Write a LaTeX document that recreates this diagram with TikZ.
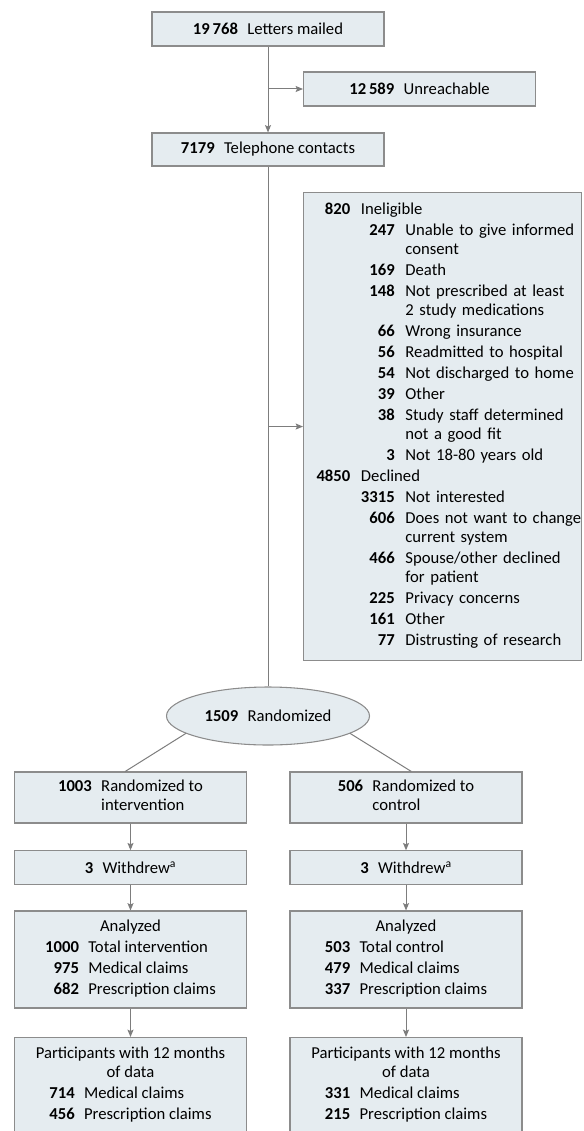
\documentclass[tikz,border=0pt]{standalone}
\usepackage{fontspec}
\setmainfont{Carlito}
\usetikzlibrary{shapes.geometric,arrows.meta}

\definecolor{boxfill}{RGB}{229,236,240}
\definecolor{boxline}{RGB}{140,140,140}
\definecolor{flowline}{RGB}{125,125,125}
% gap between a count and its label
\newcommand{\ngap}{\hspace{7pt}}
\newcommand{\igap}{\\[1.5pt]}

\begin{document}
\begin{tikzpicture}[x=0.75pt,y=-0.75pt,
    font=\fontsize{12.5pt}{14.25pt}\selectfont,
    box/.style={rectangle,draw=boxline,fill=boxfill,line width=0.8pt,
      minimum width=174pt,inner sep=2pt},
    flow/.style={draw=flowline,line width=0.75pt},
    arr/.style={flow,-{Stealth[length=5.5pt,width=4.5pt,inset=1pt]}}]
  % fix the page to the size of the figure
  \useasboundingbox (0,0) rectangle (583,1131);
  \clip (0,0) rectangle (583,1131);

  % screening
  \node[box,minimum height=25.5pt] (mail) at (268,29)
    {\textbf{19\,768}\ngap Letters mailed};
  \node[box,minimum height=25.5pt] (unreach) at (419.5,89)
    {\textbf{12\,589}\ngap Unreachable};
  \node[box,minimum height=24.75pt] (phone) at (268,149.5)
    {\textbf{7179}\ngap Telephone contacts};

  % exclusions
  \node[box,anchor=north west,minimum width=208.5pt,minimum height=351pt,
    text width=189pt,inner xsep=9.75pt,align=left] (excl) at (303,192)
    {\begin{tabular}{@{}r@{\hspace{8pt}}r@{\hspace{8pt}}l@{}}
      \textbf{820} & \multicolumn{2}{@{}l@{}}{Ineligible}\igap
      & \textbf{247} & Unable to give informed\\
      & & consent\igap
      & \textbf{169} & Death\igap
      & \textbf{148} & Not prescribed at least\\
      & & 2 study medications\igap
      & \textbf{66} & Wrong insurance\igap
      & \textbf{56} & Readmitted to hospital\igap
      & \textbf{54} & Not discharged to home\igap
      & \textbf{39} & Other\igap
      & \textbf{38} & Study staff determined\\
      & & not a good fit\igap
      & \textbf{3} & Not 18-80 years old\igap
      \textbf{4850} & \multicolumn{2}{@{}l@{}}{Declined}\igap
      & \textbf{3315} & Not interested\igap
      & \textbf{606} & Does not want to change\\
      & & current system\igap
      & \textbf{466} & Spouse/other declined\\
      & & for patient\igap
      & \textbf{225} & Privacy concerns\igap
      & \textbf{161} & Other\igap
      & \textbf{77} & Distrusting of research
    \end{tabular}};

  \node[ellipse,draw=boxline,fill=boxfill,line width=0.8pt,inner sep=0pt,
    minimum width=152.25pt,minimum height=43.5pt] (rand) at (268,716)
    {\textbf{1509}\ngap Randomized};

  % intervention arm
  \node[box,minimum height=38.25pt] (intv) at (130.5,797.5)
    {\begin{tabular}{@{}r@{\ngap}l@{}}\textbf{1003} & Randomized to\\ & intervention\end{tabular}};
  \node[box,minimum height=25pt] (wdI) at (130.5,867.5)
    {\textbf{3}\ngap Withdrew\textsuperscript{a}};
  \node[box,minimum height=72.75pt] (anI) at (130.5,959.5)
    {\begin{tabular}{@{}c@{}}Analyzed\igap
      \begin{tabular}[t]{@{}r@{\ngap}l@{}}
        \textbf{1000} & Total intervention\igap
        \textbf{975} & Medical claims\igap
        \textbf{682} & Prescription claims
      \end{tabular}\end{tabular}};
  \node[box,anchor=north,minimum height=72pt] (ptI) at (130.5,1037)
    {\begin{tabular}{@{}c@{}}Participants with 12 months\\ of data\igap
      \begin{tabular}[t]{@{}r@{\ngap}l@{}}
        \textbf{714} & Medical claims\igap
        \textbf{456} & Prescription claims
      \end{tabular}\end{tabular}};

  % control arm
  \node[box,minimum height=38.25pt] (ctrl) at (406,797.5)
    {\begin{tabular}{@{}r@{\ngap}l@{}}\textbf{506} & Randomized to\\ & control\end{tabular}};
  \node[box,minimum height=25pt] (wdC) at (406,867.5)
    {\textbf{3}\ngap Withdrew\textsuperscript{a}};
  \node[box,minimum height=72.75pt] (anC) at (406,959.5)
    {\begin{tabular}{@{}c@{}}Analyzed\igap
      \begin{tabular}[t]{@{}r@{\ngap}l@{}}
        \textbf{503} & Total control\igap
        \textbf{479} & Medical claims\igap
        \textbf{337} & Prescription claims
      \end{tabular}\end{tabular}};
  \node[box,anchor=north,minimum height=72pt] (ptC) at (406,1037)
    {\begin{tabular}{@{}c@{}}Participants with 12 months\\ of data\igap
      \begin{tabular}[t]{@{}r@{\ngap}l@{}}
        \textbf{331} & Medical claims\igap
        \textbf{215} & Prescription claims
      \end{tabular}\end{tabular}};

  % connectors
  \draw[arr] (mail) -- (phone);
  \draw[arr] (mail.south |- unreach.west) -- (unreach.west);
  \draw[flow] (phone) -- (rand);
  \draw[arr] (phone.south |- excl.west) -- (excl.west);
  \draw[flow] (rand.192) -- ([xshift=-4pt]intv.north);
  \draw[flow] (rand.348) -- ([xshift=4pt]ctrl.north);
  \foreach \a/\b in {intv/wdI,wdI/anI,anI/ptI,ctrl/wdC,wdC/anC,anC/ptC}
    \draw[arr] (\a) -- (\b);
\end{tikzpicture}
\end{document}
